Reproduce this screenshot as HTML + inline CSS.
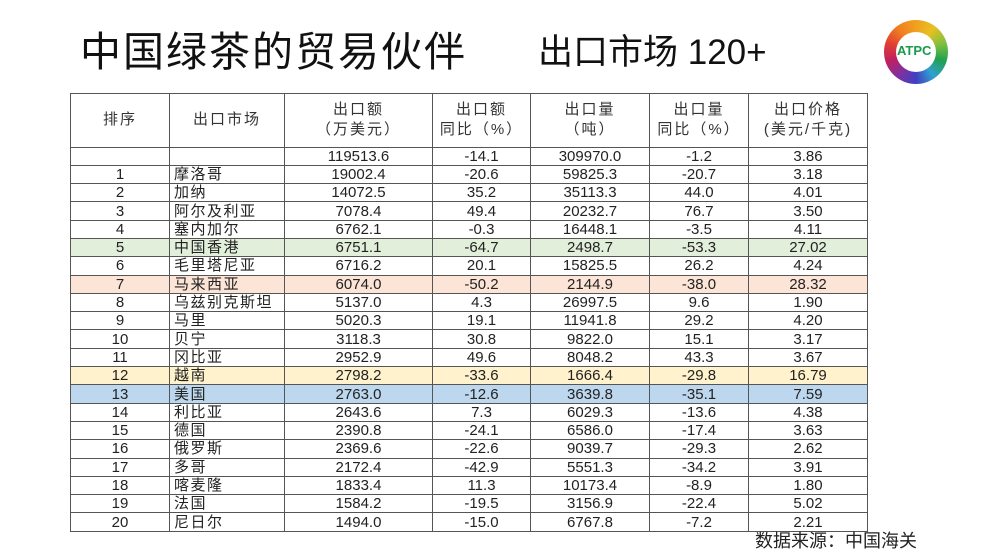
<!DOCTYPE html>
<html><head><meta charset="utf-8"><style>
body{margin:0;width:989px;height:556px;background:#fff;position:relative;overflow:hidden;font-family:"Liberation Sans","Noto Sans CJK SC",sans-serif;color:#222}
.t1{position:absolute;left:80px;top:18px;font-size:41px;color:#111;letter-spacing:2px}
.t2{position:absolute;left:538px;top:24px;font-size:35px;color:#111}
table{position:absolute;left:70px;top:93px;border-collapse:collapse;table-layout:fixed;font-size:15px}
td{border:1.5px solid #555;padding:0;height:17.3px;line-height:17px;text-align:center;white-space:nowrap;overflow:hidden}
tr.h td{height:52.5px;line-height:20px;color:#333;letter-spacing:2px}
td.n{text-align:left;padding-left:4px;letter-spacing:1.5px}
tr.g td{background:#e2efda}tr.p td{background:#fce4d6}tr.y td{background:#fff2cc}tr.b td{background:#bdd7ee}
.src{position:absolute;left:755px;top:527px;font-size:18px;color:#222}
.logo{position:absolute;left:884px;top:20px;width:64px;height:64px;border-radius:50%;background:conic-gradient(#f0a020,#e8c020,#80c040,#20a050,#30a0d0,#4040c0,#8030a0,#c02060,#e04030,#f08020,#f0a020)}
.logo:after{content:"";position:absolute;left:12px;top:12px;width:40px;height:40px;border-radius:50%;background:#fff}
.lt{position:absolute;left:897px;top:43px;font-size:13px;font-weight:bold;color:#1a9a4a;z-index:2;font-family:"Liberation Sans",sans-serif}
</style></head><body>
<div class="t1">中国绿茶的贸易伙伴</div>
<div class="t2">出口市场 120+</div>
<div class="logo"></div><div class="lt">ATPC</div>
<table>
<colgroup><col style="width:99px"><col style="width:115px"><col style="width:148px"><col style="width:98px"><col style="width:119px"><col style="width:99px"><col style="width:119px"></colgroup>
<tr class="h"><td>排序</td><td>出口市场</td><td>出口额<br>（万美元）</td><td>出口额<br>同比（%）</td><td>出口量<br>（吨）</td><td>出口量<br>同比（%）</td><td>出口价格<br>(美元/千克)</td></tr>
<tr><td></td><td></td><td>119513.6</td><td>-14.1</td><td>309970.0</td><td>-1.2</td><td>3.86</td></tr>
<tr><td>1</td><td class="n">摩洛哥</td><td>19002.4</td><td>-20.6</td><td>59825.3</td><td>-20.7</td><td>3.18</td></tr>
<tr><td>2</td><td class="n">加纳</td><td>14072.5</td><td>35.2</td><td>35113.3</td><td>44.0</td><td>4.01</td></tr>
<tr><td>3</td><td class="n">阿尔及利亚</td><td>7078.4</td><td>49.4</td><td>20232.7</td><td>76.7</td><td>3.50</td></tr>
<tr><td>4</td><td class="n">塞内加尔</td><td>6762.1</td><td>-0.3</td><td>16448.1</td><td>-3.5</td><td>4.11</td></tr>
<tr class="g"><td>5</td><td class="n">中国香港</td><td>6751.1</td><td>-64.7</td><td>2498.7</td><td>-53.3</td><td>27.02</td></tr>
<tr><td>6</td><td class="n">毛里塔尼亚</td><td>6716.2</td><td>20.1</td><td>15825.5</td><td>26.2</td><td>4.24</td></tr>
<tr class="p"><td>7</td><td class="n">马来西亚</td><td>6074.0</td><td>-50.2</td><td>2144.9</td><td>-38.0</td><td>28.32</td></tr>
<tr><td>8</td><td class="n">乌兹别克斯坦</td><td>5137.0</td><td>4.3</td><td>26997.5</td><td>9.6</td><td>1.90</td></tr>
<tr><td>9</td><td class="n">马里</td><td>5020.3</td><td>19.1</td><td>11941.8</td><td>29.2</td><td>4.20</td></tr>
<tr><td>10</td><td class="n">贝宁</td><td>3118.3</td><td>30.8</td><td>9822.0</td><td>15.1</td><td>3.17</td></tr>
<tr><td>11</td><td class="n">冈比亚</td><td>2952.9</td><td>49.6</td><td>8048.2</td><td>43.3</td><td>3.67</td></tr>
<tr class="y"><td>12</td><td class="n">越南</td><td>2798.2</td><td>-33.6</td><td>1666.4</td><td>-29.8</td><td>16.79</td></tr>
<tr class="b"><td>13</td><td class="n">美国</td><td>2763.0</td><td>-12.6</td><td>3639.8</td><td>-35.1</td><td>7.59</td></tr>
<tr><td>14</td><td class="n">利比亚</td><td>2643.6</td><td>7.3</td><td>6029.3</td><td>-13.6</td><td>4.38</td></tr>
<tr><td>15</td><td class="n">德国</td><td>2390.8</td><td>-24.1</td><td>6586.0</td><td>-17.4</td><td>3.63</td></tr>
<tr><td>16</td><td class="n">俄罗斯</td><td>2369.6</td><td>-22.6</td><td>9039.7</td><td>-29.3</td><td>2.62</td></tr>
<tr><td>17</td><td class="n">多哥</td><td>2172.4</td><td>-42.9</td><td>5551.3</td><td>-34.2</td><td>3.91</td></tr>
<tr><td>18</td><td class="n">喀麦隆</td><td>1833.4</td><td>11.3</td><td>10173.4</td><td>-8.9</td><td>1.80</td></tr>
<tr><td>19</td><td class="n">法国</td><td>1584.2</td><td>-19.5</td><td>3156.9</td><td>-22.4</td><td>5.02</td></tr>
<tr><td>20</td><td class="n">尼日尔</td><td>1494.0</td><td>-15.0</td><td>6767.8</td><td>-7.2</td><td>2.21</td></tr>
</table>
<div class="src">数据来源：中国海关</div>
</body></html>
